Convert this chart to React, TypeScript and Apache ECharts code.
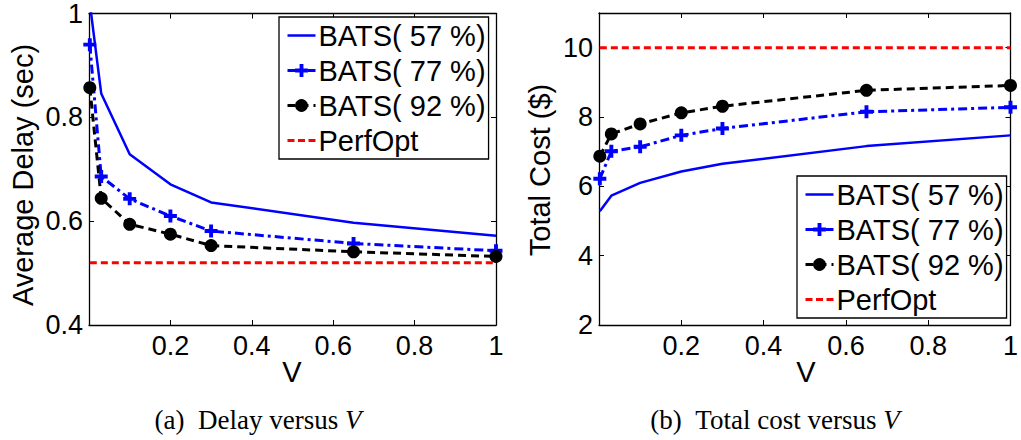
import React, { useEffect, useRef } from "react";
import * as echarts from "echarts";

// ---- data ----
const vValues = [0.002, 0.03, 0.1, 0.2, 0.3, 0.65, 1];

const delay57 = [1.02, 0.846, 0.729, 0.671, 0.636, 0.597, 0.572];
const delay77 = [0.94, 0.686, 0.643, 0.61, 0.581, 0.557, 0.543];
const delay92 = [0.857, 0.644, 0.594, 0.575, 0.553, 0.541, 0.532];
const perfOptDelay = 0.52;

const cost57 = [5.28, 5.73, 6.1, 6.43, 6.65, 7.16, 7.47];
const cost77 = [6.22, 7.01, 7.14, 7.47, 7.67, 8.15, 8.28];
const cost92 = [6.87, 7.51, 7.8, 8.12, 8.31, 8.77, 8.91];
const perfOptCost = 10;

const seriesNames = ["BATS( 57 %)", "BATS( 77 %)", "BATS( 92 %)", "PerfOpt"];
const xTicks = { min: 0, max: 1, interval: 0.2 };
const delayTicks = { min: 0.4, max: 1, interval: 0.2 };
const costTicks = { min: 2, max: 11, interval: 2 };

const SANS = '"Liberation Sans", Arial, Helvetica, sans-serif';
const SERIF = '"Liberation Serif", "Times New Roman", serif';
const plusPath = "path://M3.5,0H6.5V3.5H10V6.5H6.5V10H3.5V6.5H0V3.5H3.5Z";
const solidIcon = "path://M0,0H28V2.5H0Z";
const dashIcon = "path://M0,0H7V3H0Z M10.5,0H17.5V3H10.5Z M21,0H28V3H21Z";

const pairs = (ys: number[]) => vValues.map((v, i) => [v, ys[i]]);
const flat = (y: number) => vValues.map((v) => [v, y]);

function makeSeries(idx: number, v57: number[], v77: number[], v92: number[], perf: number) {
  const axes = { xAxisIndex: idx * 2, yAxisIndex: idx * 2 };
  return [
    {
      ...axes,
      type: "line",
      name: seriesNames[0],
      data: pairs(v57),
      symbol: "none",
      lineStyle: { color: "#0000ff", width: 2.5, type: "solid" },
      itemStyle: { color: "#0000ff" },
      z: 3,
    },
    {
      ...axes,
      type: "line",
      name: seriesNames[1],
      data: pairs(v77),
      symbol: plusPath,
      symbolSize: 13,
      showAllSymbol: true,
      lineStyle: { color: "#0000ff", width: 3, type: [9, 4, 3, 4] },
      itemStyle: { color: "#0000ff" },
      z: 4,
    },
    {
      ...axes,
      type: "line",
      name: seriesNames[2],
      data: pairs(v92),
      symbol: "circle",
      symbolSize: 13,
      showAllSymbol: true,
      lineStyle: { color: "#000000", width: 3, type: [8, 5] },
      itemStyle: { color: "#000000" },
      z: 4,
    },
    {
      ...axes,
      type: "line",
      name: seriesNames[3],
      data: flat(perf),
      symbol: "none",
      lineStyle: { color: "#ff0000", width: 3, type: [7, 4] },
      itemStyle: { color: "#ff0000" },
      z: 2,
    },
  ];
}

const axisLine = { show: true, onZero: false, lineStyle: { color: "#000", width: 1.3 } };
const axisTick = { show: true, inside: true, length: 5, lineStyle: { color: "#000", width: 1 } };

function xAxes(gridIndex: number) {
  return [
    {
      type: "value",
      gridIndex,
      position: "bottom",
      ...xTicks,
      axisLine,
      axisTick,
      splitLine: { show: false },
      axisLabel: {
        fontSize: 27,
        color: "#000",
        fontFamily: SANS,
        margin: 7,
        formatter: (v: number) => (v === 0 ? "" : String(v)),
      },
    },
    {
      type: "value",
      gridIndex,
      position: "top",
      ...xTicks,
      axisLine,
      axisTick,
      splitLine: { show: false },
      axisLabel: { show: false },
    },
  ];
}

function yAxes(gridIndex: number, ticks: any) {
  return [
    {
      type: "value",
      gridIndex,
      position: "left",
      ...ticks,
      axisLine,
      axisTick,
      splitLine: { show: false },
      axisLabel: {
        fontSize: 27,
        color: "#000",
        fontFamily: SANS,
        margin: 6,
        formatter: (v: number) => {
          const k = Math.round((v - ticks.min) / ticks.interval);
          return Math.abs(ticks.min + k * ticks.interval - v) < 1e-9 ? String(+v.toFixed(4)) : "";
        },
      },
    },
    {
      type: "value",
      gridIndex,
      position: "right",
      ...ticks,
      axisLine,
      axisTick,
      splitLine: { show: false },
      axisLabel: { show: false },
    },
  ];
}

function legend(left: number, top: number) {
  return {
    orient: "vertical",
    left,
    top,
    padding: [4, 3, 4, 7],
    itemGap: 6,
    itemWidth: 28,
    itemHeight: 16,
    borderColor: "#000",
    borderWidth: 1.3,
    borderRadius: 0,
    backgroundColor: "#fff",
    selectedMode: false,
    data: [
      { name: seriesNames[0], icon: solidIcon },
      { name: seriesNames[1] },
      { name: seriesNames[2] },
      { name: seriesNames[3], icon: dashIcon },
    ],
    textStyle: { fontSize: 29, color: "#000", fontFamily: SANS, padding: [0, 0, 0, -2] },
    lineStyle: { width: 3 },
  };
}

function caption(x: number, text: string) {
  return {
    type: "text",
    x,
    y: 420,
    style: {
      text,
      fontSize: 27,
      fontFamily: SERIF,
      fill: "#000",
      align: "center",
      verticalAlign: "middle",
      rich: { i: { fontStyle: "italic", fontSize: 27, fontFamily: SERIF, fill: "#000" } },
    },
  };
}

function axisName(x: number, y: number, text: string, rotated: boolean) {
  return {
    type: "text",
    x,
    y,
    rotation: rotated ? Math.PI / 2 : 0,
    style: {
      text,
      fontSize: 29,
      fontFamily: SANS,
      fill: "#000",
      align: "center",
      verticalAlign: "middle",
    },
  };
}

export default function App() {
  const ref = useRef<HTMLDivElement>(null);
  useEffect(() => {
    if (!ref.current) return;
    const chart = echarts.init(ref.current, undefined, { renderer: "svg" });
    chart.setOption({
      animation: false,
      backgroundColor: "#ffffff",
      grid: [
        { left: 89, top: 13, width: 407, height: 312, show: false },
        { left: 599, top: 13, width: 415, height: 312, show: false },
      ],
      xAxis: [...xAxes(0), ...xAxes(1)],
      yAxis: [...yAxes(0, delayTicks), ...yAxes(1, costTicks)],
      legend: [legend(279, 17), legend(797, 176)],
      series: [
        ...makeSeries(0, delay57, delay77, delay92, perfOptDelay),
        ...makeSeries(1, cost57, cost77, cost92, perfOptCost),
      ],
      graphic: [
        axisName(23, 175, "Average Delay (sec)", true),
        axisName(540, 170, "Total Cost ($)", true),
        axisName(292, 372, "V", false),
        axisName(806, 372, "V", false),
        caption(258, "(a)\u00a0\u00a0Delay versus {i|V}"),
        caption(775, "(b)\u00a0\u00a0Total cost versus {i|V}"),
      ],
    });
    return () => chart.dispose();
  }, []);
  return (
    <div
      ref={ref}
      style={{ position: "absolute", left: 0, top: 0, width: 1021, height: 440 }}
    />
  );
}
